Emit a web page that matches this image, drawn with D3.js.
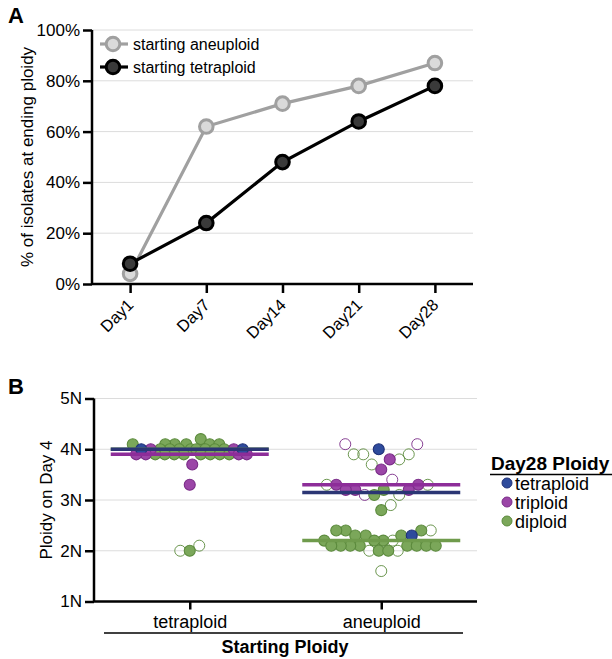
<!DOCTYPE html>
<html>
<head>
<meta charset="utf-8">
<script src="https://cdn.jsdelivr.net/npm/d3@7"></script>
<style>
  body { margin: 0; background: #fff; }
  svg { font-family: Arial, "Liberation Sans", Helvetica, sans-serif; }
  .axis path, .axis line { stroke: #000; stroke-width: 2.5; }
  .axis text { fill: #000; }
</style>
</head>
<body>
<div id="chart"></div>
<script>
// ---- Panel A data ----
var days = ["Day1", "Day7", "Day14", "Day21", "Day28"];
var aneuploidPct = [4, 62, 71, 78, 87];
var tetraploidPct = [8, 24, 48, 64, 78];
var pctTicks = [0, 20, 40, 60, 80, 100];

// ---- Panel B data ----
var startGroups = ["tetraploid", "aneuploid"];
var endLabels = ["tetraploid", "triploid", "diploid"];
var ploidyTicks = [1, 2, 3, 4, 5];
// starting tetraploid, filled by Day28 ploidy
var tetraToTetra = [4.0, 4.0];
var tetraToTri = [4.0, 4.0, 3.9, 3.9, 3.9, 3.9, 3.7, 3.3];
var tetraToDi = [4.2, 4.1, 4.1, 4.1, 4.1, 4.1, 4.1, 4.0, 4.0, 4.0, 4.0, 4.0, 4.0, 4.0, 4.0,
  3.9, 3.9, 3.9, 3.9, 3.9, 3.9, 3.9, 3.9, 2.0];
var tetraOpenTri = [];
var tetraOpenDi = [2.1, 2.0];
// starting aneuploid
var aneuToTetra = [4.0, 2.3];
var aneuToTri = [3.8, 3.6, 3.3, 3.3, 3.2, 3.2, 3.2];
var aneuToDi = [3.2, 3.1, 2.8, 2.4, 2.4, 2.4, 2.3, 2.3, 2.3, 2.2, 2.2, 2.2,
  2.1, 2.1, 2.1, 2.1, 2.1, 2.1, 2.1, 2.1, 2.0, 2.0];
var aneuOpenTri = [4.1, 4.1, 3.4, 3.1];
var aneuOpenDi = [3.9, 3.9, 3.9, 3.8, 3.7, 3.3, 3.3, 3.1, 2.9, 2.4, 2.2, 2.0, 2.0, 1.6];

var fills = { tetraploid: "#2e4b9c", triploid: "#9b46a7", diploid: "#7ba75a" };
var strokes = { tetraploid: "#1f3077", triploid: "#7a2c88", diploid: "#5b8a3c" };
var medianColors = { tetraploid: "#2b3674", triploid: "#8d2d99", diploid: "#6f9b4c" };

var width = 612;
var height = 659;

var svg = d3
  .select("#chart")
  .append("svg")
  .attr("width", width)
  .attr("height", height);

// =========================
// Panel A: line chart
// =========================
var xA = d3.scalePoint().domain(days).range([92, 473]).padding(0.5);
var yA = d3.scaleLinear().domain([0, 100]).range([284, 30]);

svg.append("text")
  .attr("x", 8).attr("y", 23)
  .attr("font-size", 22).attr("font-weight", "bold")
  .text("A");

// gridlines
svg.append("g")
  .selectAll("line")
  .data(pctTicks.slice(1))
  .enter()
  .append("line")
  .attr("x1", 92).attr("x2", 473)
  .attr("y1", function(d) { return yA(d); })
  .attr("y2", function(d) { return yA(d); })
  .attr("stroke", "#dcdcdc").attr("stroke-width", 1);

var yAxisA = d3.axisLeft(yA).tickValues(pctTicks)
  .tickFormat(function(d) { return d + "%"; }).tickSize(9).tickPadding(3);
svg.append("g")
  .attr("class", "axis")
  .attr("transform", "translate(92,0)")
  .call(yAxisA)
  .call(function(g) { g.select(".domain").attr("d", "M0,284V30"); })
  .selectAll("text").attr("font-size", 17);

var xAxisA = d3.axisBottom(xA).tickSize(9).tickSizeOuter(0);
svg.append("g")
  .attr("class", "axis")
  .attr("transform", "translate(0,284)")
  .call(xAxisA)
  .call(function(g) { g.select(".domain").attr("d", "M92,0H473"); })
  .selectAll("text")
  .attr("font-size", 16.5)
  .attr("text-anchor", "end")
  .attr("dy", null)
  .attr("y", 0)
  .attr("transform", "translate(4,22) rotate(-45)");

svg.append("text")
  .attr("transform", "translate(27,157) rotate(-90)")
  .attr("text-anchor", "middle")
  .attr("dominant-baseline", "central")
  .attr("font-size", 17)
  .text("% of isolates at ending ploidy");

var seriesA = [
  { name: "starting aneuploid", values: aneuploidPct, line: "#a0a0a0", fill: "#dadada" },
  { name: "starting tetraploid", values: tetraploidPct, line: "#000", fill: "#3a3a3a" }
];

var lineA = d3.line()
  .x(function(d, i) { return xA(days[i]); })
  .y(function(d) { return yA(d); });

seriesA.forEach(function(s) {
  svg.append("path")
    .datum(s.values)
    .attr("d", lineA)
    .attr("fill", "none")
    .attr("stroke", s.line)
    .attr("stroke-width", 3.2);
  svg.append("g")
    .selectAll("circle")
    .data(s.values)
    .enter()
    .append("circle")
    .attr("cx", function(d, i) { return xA(days[i]); })
    .attr("cy", function(d) { return yA(d); })
    .attr("r", 6.8)
    .attr("fill", s.fill)
    .attr("stroke", s.line)
    .attr("stroke-width", 3);
});

// legend A
seriesA.forEach(function(s, i) {
  var ly = 44 + i * 23;
  svg.append("line")
    .attr("x1", 100).attr("x2", 128).attr("y1", ly).attr("y2", ly)
    .attr("stroke", s.line).attr("stroke-width", 3.2);
  svg.append("circle")
    .attr("cx", 113).attr("cy", ly).attr("r", 6.8)
    .attr("fill", s.fill).attr("stroke", s.line).attr("stroke-width", 3);
  svg.append("text")
    .attr("x", 133).attr("y", ly + 5.5)
    .attr("font-size", 16)
    .text(s.name);
});

// =========================
// Panel B: scatter dot plot
// =========================
var xB = d3.scalePoint().domain(startGroups).range([94, 477]).padding(0.5);
var yB = d3.scaleLinear().domain([1, 5]).range([601.5, 398.5]);

svg.append("text")
  .attr("x", 8).attr("y", 394)
  .attr("font-size", 22).attr("font-weight", "bold")
  .text("B");

svg.append("g")
  .selectAll("line")
  .data(ploidyTicks.slice(1))
  .enter()
  .append("line")
  .attr("x1", 94).attr("x2", 477)
  .attr("y1", function(d) { return yB(d); })
  .attr("y2", function(d) { return yB(d); })
  .attr("stroke", "#dcdcdc").attr("stroke-width", 1);

var yAxisB = d3.axisLeft(yB).tickValues(ploidyTicks)
  .tickFormat(function(d) { return d + "N"; }).tickSize(9).tickPadding(3);
svg.append("g")
  .attr("class", "axis")
  .attr("transform", "translate(94,0)")
  .call(yAxisB)
  .call(function(g) { g.select(".domain").attr("d", "M0,601.5V398.5"); })
  .selectAll("text").attr("font-size", 17);

var xAxisB = d3.axisBottom(xB).tickSize(8).tickPadding(6).tickSizeOuter(0);
svg.append("g")
  .attr("class", "axis")
  .attr("transform", "translate(0,601.5)")
  .call(xAxisB)
  .call(function(g) { g.select(".domain").attr("d", "M94,0H477"); })
  .selectAll("text").attr("font-size", 18);

svg.append("line")
  .attr("x1", 104).attr("x2", 463).attr("y1", 633).attr("y2", 633)
  .attr("stroke", "#000").attr("stroke-width", 1.5);

svg.append("text")
  .attr("x", 285).attr("y", 653)
  .attr("text-anchor", "middle")
  .attr("font-size", 18).attr("font-weight", "bold")
  .text("Starting Ploidy");

svg.append("text")
  .attr("transform", "translate(46,500) rotate(-90)")
  .attr("text-anchor", "middle")
  .attr("dominant-baseline", "central")
  .attr("font-size", 17)
  .text("Ploidy on Day 4");

// build the points
function makePts(group, end, vals, open) {
  return vals.map(function(v) {
    return { group: group, end: end, value: v, open: open };
  });
}
var pointsB = [].concat(
  makePts("tetraploid", "diploid", tetraToDi, false),
  makePts("tetraploid", "triploid", tetraToTri, false),
  makePts("tetraploid", "tetraploid", tetraToTetra, false),
  makePts("tetraploid", "triploid", tetraOpenTri, true),
  makePts("tetraploid", "diploid", tetraOpenDi, true),
  makePts("aneuploid", "diploid", aneuToDi, false),
  makePts("aneuploid", "triploid", aneuToTri, false),
  makePts("aneuploid", "tetraploid", aneuToTetra, false),
  makePts("aneuploid", "triploid", aneuOpenTri, true),
  makePts("aneuploid", "diploid", aneuOpenDi, true)
);

// spread the dots sideways, lowest values first, so each cluster fans out
// (elliptical spacing wx by wy, kept within +/- maxHalf of the group centre)
var wx = 9.5, wy = 21, maxHalf = 57;
startGroups.forEach(function(g) {
  var pts = pointsB.filter(function(p) { return p.group === g; });
  pts.forEach(function(p, i) { p.idx = i; p.py = yB(p.value); });
  pts.sort(function(a, b) { return (a.value - b.value) || (a.idx - b.idx); });
  var placed = [];
  pts.forEach(function(p, k) {
    var near = placed.filter(function(q) { return Math.abs(q.py - p.py) < wy; });
    var side = k % 2 === 0 ? 1 : -1;
    var best = null, bestScore = -1;
    for (var s = 0; s <= maxHalf; s += 0.5) {
      [side * s, -side * s].forEach(function(x) {
        var m = Infinity;
        near.forEach(function(q) {
          var a = (x - q.dx) / wx, b = (q.py - p.py) / wy;
          m = Math.min(m, Math.sqrt(a * a + b * b));
        });
        var score = Math.min(m, 1);
        if (score > bestScore + 1e-9) { bestScore = score; best = x; }
      });
      if (bestScore >= 1) break;
    }
    p.dx = best;
    placed.push(p);
  });
});

var drawOrder = { diploid: 1, triploid: 2, tetraploid: 3 };
var sortedPts = pointsB.slice().sort(function(a, b) {
  var ka = a.open ? 0 : drawOrder[a.end];
  var kb = b.open ? 0 : drawOrder[b.end];
  return ka - kb;
});

svg.append("g")
  .selectAll("circle")
  .data(sortedPts)
  .enter()
  .append("circle")
  .attr("cx", function(d) { return xB(d.group) + d.dx; })
  .attr("cy", function(d) { return yB(d.value); })
  .attr("r", 5.5)
  .attr("fill", function(d) { return d.open ? "none" : fills[d.end]; })
  .attr("stroke", function(d) { return strokes[d.end]; })
  .attr("stroke-width", function(d) { return d.open ? 0.9 : 1.1; });

// median lines of the filled dots
var medians = [];
startGroups.forEach(function(g) {
  ["diploid", "triploid", "tetraploid"].forEach(function(e) {
    var vals = pointsB.filter(function(p) { return p.group === g && p.end === e && !p.open; })
      .map(function(p) { return p.value; });
    if (vals.length) medians.push({ group: g, end: e, value: d3.median(vals) });
  });
});

svg.append("g")
  .selectAll("line")
  .data(medians)
  .enter()
  .append("line")
  .attr("x1", function(d) { return xB(d.group) - 79; })
  .attr("x2", function(d) { return xB(d.group) + 79; })
  .attr("y1", function(d) { return yB(d.value); })
  .attr("y2", function(d) { return yB(d.value); })
  .attr("stroke", function(d) { return medianColors[d.end]; })
  .attr("stroke-width", 3.5);

// legend B
svg.append("text")
  .attr("x", 491).attr("y", 470)
  .attr("font-size", 19).attr("font-weight", "bold")
  .text("Day28 Ploidy");
svg.append("line")
  .attr("x1", 490).attr("x2", 612).attr("y1", 474.5).attr("y2", 474.5)
  .attr("stroke", "#000").attr("stroke-width", 1.5);

var legB = svg.append("g")
  .selectAll("g")
  .data(endLabels)
  .enter()
  .append("g")
  .attr("transform", function(d, i) { return "translate(507," + (483 + i * 19) + ")"; });
legB.append("circle")
  .attr("r", 5)
  .attr("fill", function(d) { return fills[d]; })
  .attr("stroke", function(d) { return strokes[d]; })
  .attr("stroke-width", 1);
legB.append("text")
  .attr("x", 8).attr("y", 6.5)
  .attr("font-size", 18)
  .text(function(d) { return d; });
</script>
</body>
</html>
